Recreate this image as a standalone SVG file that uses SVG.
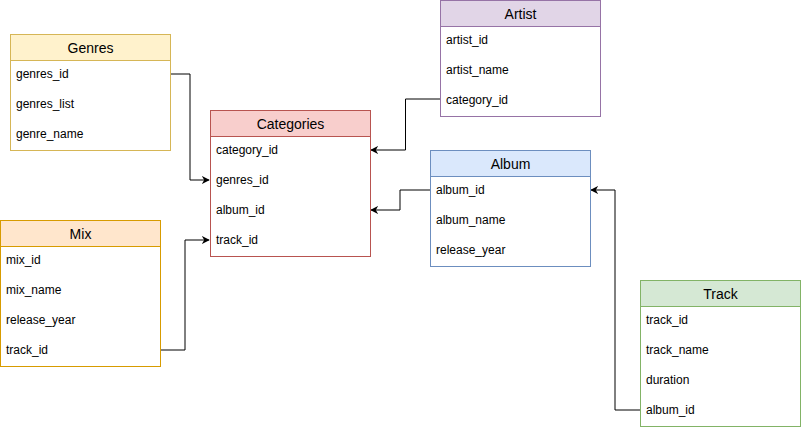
<svg xmlns="http://www.w3.org/2000/svg" width="801" height="430" viewBox="0 0 801 430">
<defs>
<style>
.hd{font-family:"Liberation Sans",Arial,sans-serif;font-size:14px;fill:#000;text-anchor:middle}
.rw{font-family:"Liberation Sans",Arial,sans-serif;font-size:12px;fill:#000}
.bd{fill:#fff}
.ln{fill:none;stroke:#000;stroke-width:1}
.y{stroke:#d6b656}.yf{fill:#fff2cc}
.r{stroke:#b85450}.rf{fill:#f8cecc}
.p{stroke:#9673a6}.pf{fill:#e1d5e7}
.o{stroke:#d79b00}.of{fill:#ffe6cc}
.b{stroke:#6c8ebf}.bf{fill:#dae8fc}
.g{stroke:#82b366}.gf{fill:#d5e8d4}
</style>
<marker id="ah" viewBox="0 0 10 10" refX="9" refY="5" markerWidth="8" markerHeight="8" markerUnits="userSpaceOnUse" orient="auto">
<path d="M0,0 L10,5 L0,10 L3,5 Z" fill="#000"/>
</marker>
</defs>
<g id="connectors">
<path class="ln" d="M170,74 H190 V180 H209" marker-end="url(#ah)"/>
<path class="ln" d="M160,350 H185 V240 H209" marker-end="url(#ah)"/>
<path class="ln" d="M440,99 H405.5 V150 H371" marker-end="url(#ah)"/>
<path class="ln" d="M430,190 H400 V210 H371" marker-end="url(#ah)"/>
<path class="ln" d="M640,410 H615 V190 H591" marker-end="url(#ah)"/>
</g>
<g id="genres">
<rect x="10.5" y="34.5" width="160" height="116" class="bd y"/>
<rect x="10.5" y="34.5" width="160" height="26" class="yf y"/>
<text x="90.5" y="53" class="hd">Genres</text>
<text x="16" y="78" class="rw">genres_id</text>
<text x="16" y="108" class="rw">genres_list</text>
<text x="16" y="138" class="rw">genre_name</text>
</g>
<g id="categories">
<rect x="210.5" y="110.5" width="160" height="146" class="bd r"/>
<rect x="210.5" y="110.5" width="160" height="26" class="rf r"/>
<text x="290.5" y="129" class="hd">Categories</text>
<text x="216" y="154" class="rw">category_id</text>
<text x="216" y="184" class="rw">genres_id</text>
<text x="216" y="214" class="rw">album_id</text>
<text x="216" y="244" class="rw">track_id</text>
</g>
<g id="artist">
<rect x="440.5" y="0.5" width="160" height="116" class="bd p"/>
<rect x="440.5" y="0.5" width="160" height="26" class="pf p"/>
<text x="520.5" y="19" class="hd">Artist</text>
<text x="446" y="44" class="rw">artist_id</text>
<text x="446" y="74" class="rw">artist_name</text>
<text x="446" y="104" class="rw">category_id</text>
</g>
<g id="album">
<rect x="430.5" y="150.5" width="160" height="116" class="bd b"/>
<rect x="430.5" y="150.5" width="160" height="26" class="bf b"/>
<text x="510.5" y="169" class="hd">Album</text>
<text x="436" y="194" class="rw">album_id</text>
<text x="436" y="224" class="rw">album_name</text>
<text x="436" y="254" class="rw">release_year</text>
</g>
<g id="mix">
<rect x="0.5" y="220.5" width="160" height="146" class="bd o"/>
<rect x="0.5" y="220.5" width="160" height="26" class="of o"/>
<text x="80.5" y="239" class="hd">Mix</text>
<text x="6" y="264" class="rw">mix_id</text>
<text x="6" y="294" class="rw">mix_name</text>
<text x="6" y="324" class="rw">release_year</text>
<text x="6" y="354" class="rw">track_id</text>
</g>
<g id="track">
<rect x="640.5" y="280.5" width="160" height="146" class="bd g"/>
<rect x="640.5" y="280.5" width="160" height="26" class="gf g"/>
<text x="720.5" y="299" class="hd">Track</text>
<text x="646" y="324" class="rw">track_id</text>
<text x="646" y="354" class="rw">track_name</text>
<text x="646" y="384" class="rw">duration</text>
<text x="646" y="414" class="rw">album_id</text>
</g>
</svg>
